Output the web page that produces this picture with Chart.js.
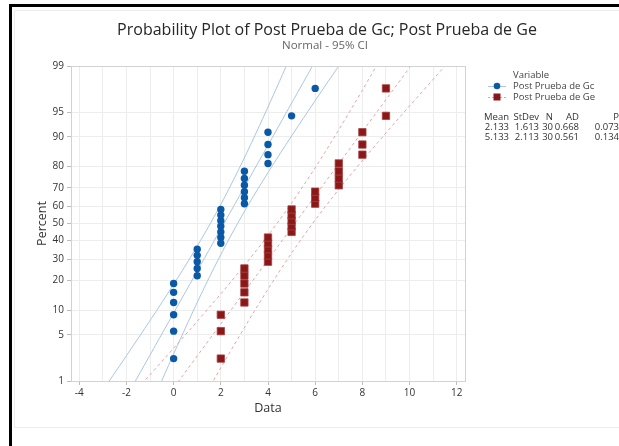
<!DOCTYPE html>
<html>
<head>
<meta charset="utf-8">
<script src="https://cdn.jsdelivr.net/npm/chart.js@4"></script>
<style>
  html, body { margin: 0; padding: 0; background: #fff; }
  #wrap { width: 619px; height: 446px; position: relative; }
</style>
</head>
<body>
<div id="wrap"><canvas id="chart"></canvas></div>
<script>
const gcData = [0,0,0,0,0,0, 1,1,1,1,1, 2,2,2,2,2,2,2, 3,3,3,3,3,3, 4,4,4,4, 5, 6];
const geData = [2,2,2, 3,3,3,3,3, 4,4,4,4,4, 5,5,5,5,5, 6,6,6, 7,7,7,7, 8,8,8, 9,9];
// plotted percent for each rank
const plotPercent = [2.30,5.59,8.88,12.17,15.46,18.75,22.04,25.33,28.62,31.91,35.20,38.49,41.78,45.07,48.36,
                     51.64,54.93,58.22,61.51,64.80,68.09,71.38,74.67,77.96,81.25,84.54,87.83,91.12,94.41,97.70];

const seriesNames = ['Post Prueba de Gc', 'Post Prueba de Ge'];
const tableHeader = ['Mean', 'StDev', 'N', 'AD', 'P'];
const gcStats = ['2.133', '1.613', '30', '0.668', '0.073'];
const geStats = ['5.133', '2.113', '30', '0.561', '0.134'];
const gcMean = 2.133, gcSd = 1.613, geMean = 5.133, geSd = 2.113, nObs = 30;

const yTickPercent = [1, 5, 10, 20, 30, 40, 50, 60, 70, 80, 90, 95, 99];
const xTicks = [-4,-3,-2,-1,0,1,2,3,4,5,6,7,8,9,10,11,12];

const FONT = '"Open Sans", "Noto Sans", sans-serif';
const blue = '#0a59a6', red = '#8a1818';

// inverse normal cdf (Acklam)
function normInv(p) {
  const a = [-3.969683028665376e+01, 2.209460984245205e+02, -2.759285104469687e+02, 1.383577518672690e+02, -3.066479806614716e+01, 2.506628277459239e+00];
  const b = [-5.447609879822406e+01, 1.615858368580409e+02, -1.556989798598866e+02, 6.680131188771972e+01, -1.328068155288572e+01];
  const c = [-7.784894002430293e-03, -3.223964580411365e-01, -2.400758277161838e+00, -2.549732539343734e+00, 4.374664141464968e+00, 2.938163982698783e+00];
  const d = [7.784695709041462e-03, 3.224671290700398e-01, 2.445134137142996e+00, 3.754408661907416e+00];
  const pl = 0.02425;
  let q, r;
  if (p < pl) {
    q = Math.sqrt(-2 * Math.log(p));
    return (((((c[0]*q+c[1])*q+c[2])*q+c[3])*q+c[4])*q+c[5]) / ((((d[0]*q+d[1])*q+d[2])*q+d[3])*q+1);
  }
  if (p > 1 - pl) {
    q = Math.sqrt(-2 * Math.log(1 - p));
    return -(((((c[0]*q+c[1])*q+c[2])*q+c[3])*q+c[4])*q+c[5]) / ((((d[0]*q+d[1])*q+d[2])*q+d[3])*q+1);
  }
  q = p - 0.5; r = q * q;
  return (((((a[0]*r+a[1])*r+a[2])*r+a[3])*r+a[4])*r+a[5])*q / (((((b[0]*r+b[1])*r+b[2])*r+b[3])*r+b[4])*r+1);
}

const points = (vals) => vals.map((v, i) => ({ x: v, y: normInv(plotPercent[i] / 100) }));

// fitted line and 95% CI for percentiles
function fitLine(m, s, k) {
  const out = [];
  for (let z = -2.7; z <= 2.71; z += 0.05) {
    const se = s * Math.sqrt(1 / nObs + z * z / (2 * nObs));
    out.push({ x: m + s * z + k * 1.96 * se, y: z });
  }
  return out;
}

const lineDs = (data, color, dash) => ({
  data, showLine: true, pointRadius: 0, borderColor: color, borderWidth: 1,
  borderDash: dash, fill: false, tension: 0
});

const decor = {
  id: 'decor',
  beforeDraw(chart) {
    const ctx = chart.ctx;
    ctx.save();
    ctx.fillStyle = '#fff';
    ctx.fillRect(0, 0, chart.width, chart.height);
    ctx.strokeStyle = '#ededed';
    ctx.lineWidth = 1;
    ctx.strokeRect(14.5, 10.5, 640, 417);
    ctx.restore();
  },
  afterDraw(chart) {
    const ctx = chart.ctx, a = chart.chartArea;
    ctx.save();
    // plot frame
    ctx.strokeStyle = '#d2d2d2';
    ctx.lineWidth = 1;
    ctx.strokeRect(Math.round(a.left) + 0.5, Math.round(a.top) + 0.5, Math.round(a.right - a.left), Math.round(a.bottom - a.top));
    // outer black frame
    ctx.fillStyle = '#000';
    ctx.fillRect(9, 4, 3, 442);
    ctx.fillRect(9, 4, 610, 3);

    // titles
    ctx.textAlign = 'center';
    ctx.textBaseline = 'middle';
    ctx.fillStyle = '#262626';
    let fs = 17;
    ctx.font = fs + 'px ' + FONT;
    const t = 'Probability Plot of Post Prueba de Gc; Post Prueba de Ge';
    const w = ctx.measureText(t).width;
    if (w > 420) { fs = fs * 420 / w; ctx.font = fs + 'px ' + FONT; }
    ctx.fillText(t, 327, 30);
    ctx.fillStyle = '#666';
    ctx.font = '11.5px ' + FONT;
    ctx.fillText('Normal - 95% CI', 325, 46);

    // legend
    ctx.font = '9.5px ' + FONT;
    ctx.textAlign = 'left';
    ctx.fillStyle = '#444';
    ctx.fillText('Variable', 513, 75);
    const rows = [[86, '#a9c6e4', blue, 'circle', []], [97, '#e6a3a3', red, 'rect', [2, 2]]];
    rows.forEach((r, i) => {
      const y = r[0];
      ctx.strokeStyle = r[1];
      ctx.setLineDash(r[4]);
      ctx.beginPath(); ctx.moveTo(488, y + 0.5); ctx.lineTo(506, y + 0.5); ctx.stroke();
      ctx.setLineDash([]);
      ctx.fillStyle = r[2];
      if (r[3] === 'circle') { ctx.beginPath(); ctx.arc(497, y, 3.3, 0, Math.PI * 2); ctx.fill(); }
      else ctx.fillRect(493.5, y - 3.5, 7, 7);
      ctx.fillStyle = '#444';
      ctx.fillText(seriesNames[i], 513, y);
    });

    // stats table
    const colRight = [509, 539, 553, 579, 619];
    ctx.textAlign = 'right';
    ctx.fillStyle = '#333';
    [[tableHeader, 117], [gcStats, 127], [geStats, 137]].forEach(([vals, y]) => {
      vals.forEach((v, j) => ctx.fillText(v, colRight[j], y));
    });
    ctx.restore();
  }
};

new Chart(document.getElementById('chart'), {
  type: 'scatter',
  data: {
    datasets: [
      { data: points(gcData), pointStyle: 'circle', pointRadius: 3.7, pointHoverRadius: 3.7,
        backgroundColor: blue, borderColor: blue, borderWidth: 0 },
      { data: points(geData), pointStyle: 'rect', pointRadius: 5.2, pointHoverRadius: 5.2,
        backgroundColor: red, borderColor: '#a84040', borderWidth: 0.8 },
      lineDs(fitLine(gcMean, gcSd, 0), '#a9c6e4', []),
      lineDs(fitLine(gcMean, gcSd, -1), '#a9c6e4', []),
      lineDs(fitLine(gcMean, gcSd, 1), '#a9c6e4', []),
      lineDs(fitLine(geMean, geSd, 0), '#e6a3a3', [3, 3]),
      lineDs(fitLine(geMean, geSd, -1), '#e6a3a3', [3, 3]),
      lineDs(fitLine(geMean, geSd, 1), '#e6a3a3', [3, 3])
    ]
  },
  options: {
    responsive: true,
    maintainAspectRatio: false,
    animation: false,
    devicePixelRatio: 1,
    layout: { padding: { left: 0, right: 154, top: 66, bottom: 0 } },
    plugins: { legend: { display: false }, tooltip: { enabled: false } },
    scales: {
      x: {
        type: 'linear',
        min: -4.35, max: 12.35,
        afterBuildTicks(scale) { scale.ticks = xTicks.map(v => ({ value: v })); },
        afterFit(scale) { scale.height = 65; },
        ticks: {
          autoSkip: false, maxRotation: 0, padding: 2,
          font: { family: FONT, size: 10 }, color: '#333',
          callback: (v) => (v % 2 === 0 ? String(v) : '')
        },
        grid: {
          color: '#ededed', lineWidth: 1, drawTicks: true, tickLength: 4,
          tickColor: (c) => (c.tick && c.tick.value % 2 === 0 ? '#bdbdbd' : 'rgba(0,0,0,0)')
        },
        border: { display: true, color: '#d2d2d2' },
        title: { display: true, text: 'Data', color: '#333', font: { family: FONT, size: 12.5 }, padding: { bottom: 30 } }
      },
      y: {
        type: 'linear',
        min: normInv(0.01), max: normInv(0.99),
        afterBuildTicks(scale) { scale.ticks = yTickPercent.map(p => ({ value: normInv(p / 100) })); },
        afterFit(scale) { scale.width = 71; },
        ticks: {
          autoSkip: false, padding: 3,
          font: { family: FONT, size: 10 }, color: '#333',
          callback: (v, i) => String(yTickPercent[i])
        },
        grid: { color: '#ededed', lineWidth: 1, drawTicks: true, tickLength: 4, tickColor: '#bdbdbd' },
        border: { display: true, color: '#d2d2d2' },
        title: { display: true, text: 'Percent', color: '#333', font: { family: FONT, size: 12.5 }, padding: { top: 35 } }
      }
    }
  },
  plugins: [decor]
});
</script>
</body>
</html>
